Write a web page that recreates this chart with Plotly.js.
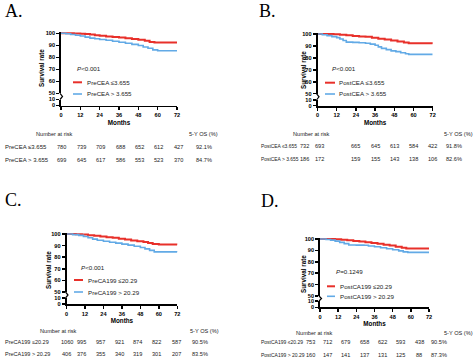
<!DOCTYPE html>
<html><head><meta charset="utf-8">
<script src="https://cdn.plot.ly/plotly-3.0.1.min.js"></script>
<style>html,body{margin:0;padding:0;background:#fff;} #chart{width:474px;height:361px;}</style>
</head><body><div id="chart"></div>
<script>
// ---------------- data ----------------
const months = [0, 12, 24, 36, 48, 60, 72];
const upperTicks = [50, 60, 70, 80, 90, 100];
const lowerTicks = [0, 10];
const panelLetters = ['A.', 'B.', 'C.', 'D.'];
const pTexts = ['<i>P</i>&lt;0.001', '<i>P</i>&lt;0.001', '<i>P</i>&lt;0.001', '<i>P</i>=0.1249'];
const groupLow = ['PreCEA ≤3.655', 'PostCEA ≤3.655', 'PreCA199 ≤20.29', 'PostCA199 ≤20.29'];
const groupHigh = ['PreCEA > 3.655', 'PostCEA > 3.655', 'PreCA199 > 20.29', 'PostCA199 > 20.29'];

// Kaplan-Meier curves (months, survival %)
const timeA_low = [0, 8, 12, 15, 18, 21, 24, 28, 32, 36, 40, 44, 48, 52, 55, 58, 72];
const survA_low = [100, 99.8, 99.6, 99.4, 98.9, 98.4, 97.9, 97.4, 96.9, 96.5, 95.8, 95.2, 94.6, 93.7, 92.8, 92.4, 92.4];
const timeA_high = [0, 3, 6, 9, 12, 15, 18, 21, 24, 28, 32, 36, 40, 44, 48, 51, 54, 57, 60, 72];
const survA_high = [100, 99.6, 99.0, 98.4, 97.7, 96.8, 96.0, 95.4, 94.8, 94.2, 93.4, 92.6, 91.7, 90.8, 89.8, 88.6, 87.5, 86.2, 85.4, 85.3];

const timeB_low = [0, 10, 14, 18, 22, 26, 30, 34, 38, 42, 46, 50, 54, 57, 72];
const survB_low = [100, 99.8, 99.4, 98.9, 98.3, 97.9, 97.6, 96.9, 96.1, 95.4, 94.6, 93.8, 92.8, 92.2, 91.9];
const timeB_high = [0, 3, 6, 9, 12, 14, 16, 18, 22, 26, 30, 33, 36, 38, 40, 43, 46, 49, 52, 55, 57, 72];
const survB_high = [100, 99.4, 98.6, 97.8, 97.0, 95.8, 94.6, 93.2, 93.0, 92.7, 92.3, 91.5, 90.6, 89.2, 88.0, 86.9, 85.9, 85.2, 84.3, 83.4, 82.9, 82.9];

const timeC_low = [0, 6, 10, 14, 18, 22, 26, 30, 34, 38, 42, 46, 50, 53, 56, 60, 72];
const survC_low = [100, 99.8, 99.5, 99.0, 98.5, 97.9, 97.3, 96.7, 96.0, 95.3, 94.5, 93.8, 93.0, 92.2, 91.3, 90.9, 90.8];
const timeC_high = [0, 4, 8, 11, 14, 17, 20, 24, 28, 32, 36, 40, 44, 48, 51, 54, 57, 72];
const survC_high = [100, 99.5, 98.8, 97.9, 96.8, 95.6, 94.6, 93.7, 92.9, 92.1, 91.3, 90.4, 89.4, 88.3, 87.2, 85.9, 84.6, 84.5];

const timeD_low = [0, 10, 14, 18, 22, 26, 30, 34, 38, 42, 46, 50, 54, 57, 72];
const survD_low = [100, 99.8, 99.4, 98.9, 98.2, 97.7, 97.1, 96.5, 95.8, 95.0, 94.2, 93.3, 92.3, 91.6, 91.4];
const timeD_high = [0, 4, 7, 10, 13, 16, 19, 24, 29, 32, 36, 40, 44, 48, 52, 55, 58, 72];
const survD_high = [100, 99.5, 99.0, 98.1, 97.0, 95.9, 94.8, 94.6, 94.5, 93.9, 93.2, 92.3, 91.5, 90.6, 89.6, 88.7, 88.3, 88.2];

// Number at risk
const riskA_low = [780, 739, 709, 688, 652, 612, 427];
const riskA_high = [699, 645, 617, 586, 553, 523, 370];
const riskB_low = [732, 693, 665, 645, 613, 584, 422];
const riskB_high = [186, 172, 159, 155, 143, 138, 106];
const riskC_low = [1060, 995, 957, 921, 874, 822, 587];
const riskC_high = [406, 376, 355, 340, 319, 301, 207];
const riskD_low = [753, 712, 679, 658, 622, 593, 438];
const riskD_high = [160, 147, 141, 137, 131, 125, 88];

// 5-year overall survival
const osA = ['92.1%', '84.7%'];
const osB = ['91.8%', '82.6%'];
const osC = ['90.5%', '83.5%'];
const osD = ['90.5%', '87.3%'];

// ---------------- layout / style ----------------
const W = 474, H = 361;
const RED = '#E8302A', BLUE = '#62AAE6';
const SANS = 'Liberation Sans, Arial, sans-serif';
const SERIF = 'Liberation Serif, Times New Roman, serif';
const TEXTC = '#222';

const geo = [
  {x0: 61, x1: 177, p100: 33.3, p50: 93.3, p10: 99.5, p0: 105.5,
   letter: [3, 11], ytitle: [42, 68],
   leg: {lx0: 73, lx1: 82, ry: 82.3, by: 94, tx: 85, px: 75, py: 68.3},
   tab: {lab: 3, labSize: 6.0, rows: [146.7, 160], hdr: 134, nr: 54, osHdr: 187, osVal: 204, shift: [0, 1, 1, 1, 1, 1, 1]}},
  {x0: 317.5, x1: 432.7, p100: 34, p50: 93.7, p10: 100, p0: 105.7,
   letter: [257, 11], ytitle: [303, 70],
   leg: {lx0: 325, lx1: 335, ry: 82.7, by: 94, tx: 337, px: 330, py: 68.3},
   tab: {lab: 259, labSize: 4.9, rows: [146, 159], hdr: 134, nr: 311, osHdr: 442, osVal: 454, shift: [-13, -17, 0, 0, 0, 0, 0]}},
  {x0: 66.5, x1: 177.3, p100: 234, p50: 292, p10: 298, p0: 304,
   letter: [3, 200], ytitle: [48, 270],
   leg: {lx0: 74, lx1: 83, ry: 280, by: 292, tx: 86, px: 79, py: 267.3},
   tab: {lab: 3, labSize: 5.5, rows: [342.3, 354], hdr: 331, nr: 58, osHdr: 188, osVal: 200, shift: [0, -3, -3, -2, -3, -2, -1]}},
  {x0: 320, x1: 429, p100: 239, p50: 296, p10: 301, p0: 307.3,
   letter: [259, 201], ytitle: [303, 274],
   leg: {lx0: 327, lx1: 335, ry: 286.3, by: 296.3, tx: 338, px: 334, py: 271.3},
   tab: {lab: 259, labSize: 5.0, rows: [342.3, 355], hdr: 333, nr: 314, osHdr: 442, osVal: 439, shift: [-10, -11, -11, -10, -10, -10, -10]}}
];

const curves = [
  [[timeA_low, survA_low], [timeA_high, survA_high]],
  [[timeB_low, survB_low], [timeB_high, survB_high]],
  [[timeC_low, survC_low], [timeC_high, survC_high]],
  [[timeD_low, survD_low], [timeD_high, survD_high]]
];
const risks = [[riskA_low, riskA_high], [riskB_low, riskB_high], [riskC_low, riskC_high], [riskD_low, riskD_high]];
const oss = [osA, osB, osC, osD];

const fx = p => p / W;
const fy = p => 1 - p / H;
const axKey = (c, n) => n === 1 ? c + 'axis' : c + 'axis' + n;
const axRef = (c, n) => n === 1 ? c : c + n;

const tickFont = {family: SANS, size: 5.6, color: '#000', weight: 'bold'};
const titleFont = {family: SANS, size: 6.3, color: '#000', weight: 'bold'};
const tabFont = {family: SANS, size: 5.6, color: TEXTC};
const legFont = {family: SANS, size: 6.2, color: TEXTC};

const data = [];
const layout = {
  width: W, height: H, margin: {l: 0, r: 0, t: 0, b: 0},
  paper_bgcolor: '#fff', plot_bgcolor: 'rgba(0,0,0,0)',
  showlegend: false, annotations: [], shapes: []
};

geo.forEach((g, k) => {
  const nU = k + 1, nL = k + 5;   // upper and lower segments of the broken y axis
  const upperTop = g.p100 - (g.p50 - g.p100) / 50 * 1.2;
  const common = {
    showline: true, linecolor: '#000', linewidth: 1.8, ticks: 'outside', ticklen: 3,
    tickwidth: 1.5, tickcolor: '#000', showgrid: false, zeroline: false, tickfont: tickFont, fixedrange: true
  };
  layout[axKey('x', nU)] = {domain: [fx(g.x0), fx(g.x1)], range: [0, 72], anchor: axRef('y', nU), visible: false, fixedrange: true};
  layout[axKey('x', nL)] = Object.assign({}, common, {
    domain: [fx(g.x0), fx(g.x1)], range: [0, 72], anchor: axRef('y', nL),
    tickmode: 'array', tickvals: months, ticktext: months.map(String),
    title: {text: 'Months', font: titleFont, standoff: 3}
  });
  layout[axKey('y', nU)] = Object.assign({}, common, {
    domain: [fy(g.p50), fy(upperTop)], range: [50, 101.2], anchor: axRef('x', nU),
    tickmode: 'array', tickvals: upperTicks, ticktext: upperTicks.map(String)
  });
  layout[axKey('y', nL)] = Object.assign({}, common, {
    domain: [fy(g.p0), fy(g.p10)], range: [0, 10], anchor: axRef('x', nL),
    tickmode: 'array', tickvals: lowerTicks, ticktext: lowerTicks.map(String)
  });

  const cols = [RED, BLUE], widths = [2, 1.6], names = [groupLow[k], groupHigh[k]];
  [nU, nL].forEach(n => {
    curves[k].forEach((c, i) => {
      data.push({
        type: 'scatter', mode: 'lines', x: c[0], y: c[1], name: names[i],
        xaxis: axRef('x', n), yaxis: axRef('y', n),
        line: {color: cols[i], width: widths[i], shape: 'hv'}, hoverinfo: 'skip'
      });
    });
  });

  // panel letter
  layout.annotations.push({text: panelLetters[k], xref: 'paper', yref: 'paper', x: fx(g.letter[0]), y: fy(g.letter[1]),
    xanchor: 'left', yanchor: 'middle', showarrow: false, font: {family: SERIF, size: 18, color: '#000'}});
  // y title
  layout.annotations.push({text: 'Survival rate', xref: 'paper', yref: 'paper', x: fx(g.ytitle[0]), y: fy(g.ytitle[1]),
    xanchor: 'center', yanchor: 'middle', textangle: -90, showarrow: false, font: titleFont});
  // P value
  layout.annotations.push({text: pTexts[k], xref: 'paper', yref: 'paper', x: fx(g.leg.px), y: fy(g.leg.py),
    xanchor: 'left', yanchor: 'middle', showarrow: false, font: legFont});
  // legend
  [[g.leg.ry, RED, groupLow[k], 2], [g.leg.by, BLUE, groupHigh[k], 1.6]].forEach(([yy, col, txt, w]) => {
    layout.shapes.push({type: 'line', xref: 'paper', yref: 'paper', x0: fx(g.leg.lx0), x1: fx(g.leg.lx1), y0: fy(yy), y1: fy(yy),
      line: {color: col, width: w}});
    layout.annotations.push({text: txt, xref: 'paper', yref: 'paper', x: fx(g.leg.tx), y: fy(yy),
      xanchor: 'left', yanchor: 'middle', showarrow: false, font: legFont});
  });
  // axis break mark
  layout.shapes.push({type: 'path', xref: 'paper', yref: 'paper',
    path: 'M' + fx(g.x0 - 1) + ',' + fy(g.p50) + ' L' + fx(g.x0 + 1.5) + ',' + fy((g.p50 + g.p10) / 2) + ' L' + fx(g.x0 - 1) + ',' + fy(g.p10),
    line: {color: '#000', width: 1.2}});

  // number-at-risk table
  const t = g.tab;
  const labFont = {family: SANS, size: t.labSize, color: TEXTC};
  layout.annotations.push({text: 'Number at risk', xref: 'paper', yref: 'paper', x: fx(t.nr), y: fy(t.hdr),
    xanchor: 'center', yanchor: 'middle', showarrow: false, font: tabFont});
  layout.annotations.push({text: '5-Y OS (%)', xref: 'paper', yref: 'paper', x: fx(t.osHdr), y: fy(t.hdr),
    xanchor: 'left', yanchor: 'middle', showarrow: false, font: tabFont});
  [groupLow[k], groupHigh[k]].forEach((lab, r) => {
    const yy = fy(t.rows[r]);
    layout.annotations.push({text: lab, xref: 'paper', yref: 'paper', x: fx(t.lab), y: yy,
      xanchor: 'left', yanchor: 'middle', showarrow: false, font: labFont});
    risks[k][r].forEach((v, j) => {
      layout.annotations.push({text: String(v), xref: axRef('x', nL), yref: 'paper', x: months[j], y: yy,
        xshift: t.shift[j], xanchor: 'center', yanchor: 'middle', showarrow: false, font: tabFont});
    });
    layout.annotations.push({text: oss[k][r], xref: 'paper', yref: 'paper', x: fx(t.osVal), y: yy,
      xanchor: 'center', yanchor: 'middle', showarrow: false, font: tabFont});
  });
});

Plotly.newPlot('chart', data, layout, {staticPlot: true, displayModeBar: false});
</script>
</body></html>
